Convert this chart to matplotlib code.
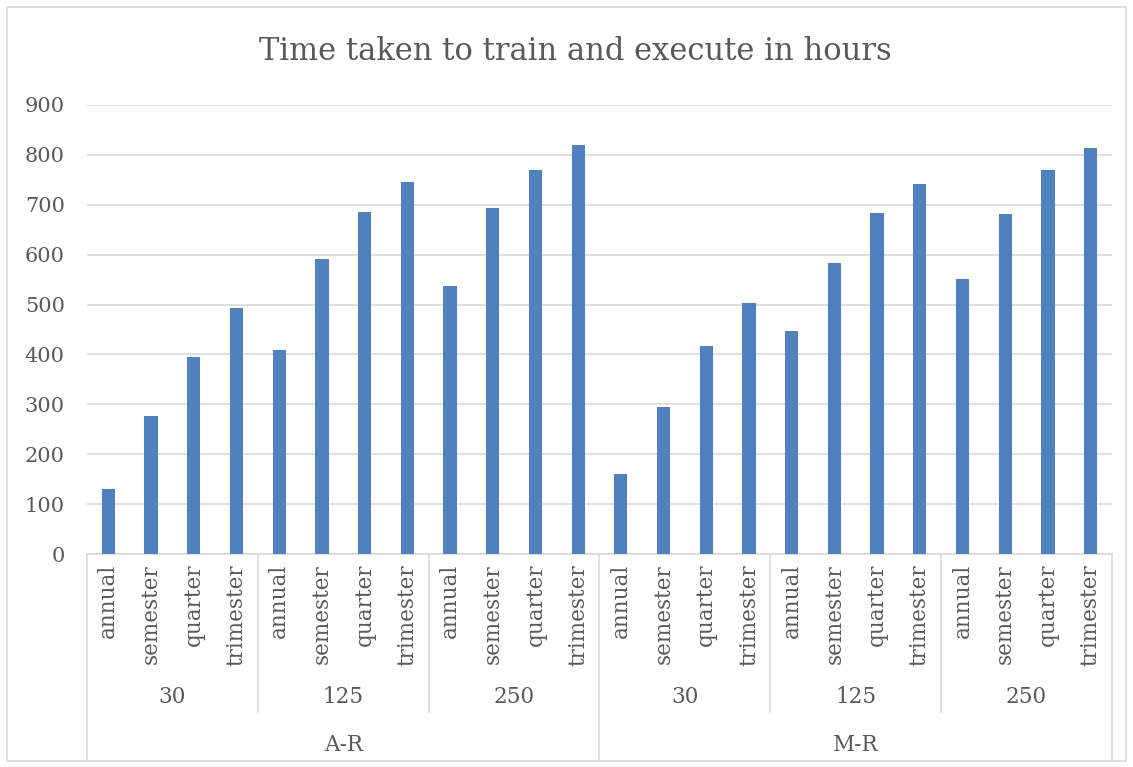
import matplotlib
matplotlib.use("Agg")
import matplotlib.pyplot as plt
from matplotlib.patches import Rectangle
from matplotlib.transforms import blended_transform_factory

# data
periods = ["annual", "semester", "quarter", "trimester"]
sizes = ["30", "125", "250"]
methods = ["A-R", "M-R"]
hours_ar = [130, 277, 394, 494, 408, 592, 686, 745, 538, 693, 770, 820]
hours_mr = [160, 295, 416, 504, 446, 584, 683, 742, 551, 682, 769, 814]
y_ticks = [0, 100, 200, 300, 400, 500, 600, 700, 800, 900]

values = hours_ar + hours_mr
n = len(values)
text_col = "#595959"
grid_col = "#d9d9d9"
bar_col = "#4f81bd"

plt.rcParams["font.family"] = ["DejaVu Serif"]

fig = plt.figure(figsize=(11.33, 7.67), dpi=100)
ax = fig.add_axes([87 / 1133, 1 - 554 / 767, (1112 - 87) / 1133, (554 - 105) / 767])

# chart border
fig.patches.append(Rectangle((7 / 1133, 1 - 761 / 767), 1119 / 1133, 754 / 767,
                             transform=fig.transFigure, fill=False,
                             edgecolor=grid_col, linewidth=1.2))

x = list(range(n))
ax.bar(x, values, width=0.31, color=bar_col, zorder=3)

ax.set_xlim(-0.5, n - 0.5)
ax.set_ylim(0, 900)
ax.set_yticks(y_ticks)
ax.tick_params(axis="y", length=0, pad=16, labelsize=15, labelcolor=text_col)
ax.set_xticks([])
ax.grid(axis="y", color=grid_col, linewidth=1.2, zorder=0)
for s in ["top", "right", "left"]:
    ax.spines[s].set_visible(False)
ax.spines["bottom"].set_color(grid_col)
ax.spines["bottom"].set_linewidth(1.2)

fig.text(0.508, 0.933, "Time taken to train and execute in hours",
         ha="center", va="center", fontsize=22, color=text_col)

# multi-level category axis
tr = blended_transform_factory(ax.transData, ax.transAxes)
for i in range(n):
    ax.text(i, -0.022, periods[i % 4], rotation=90, ha="center", va="top",
            fontsize=15.5, color=text_col, transform=tr)

for g in range(6):
    ax.text(g * 4 + 1.5, -0.318, sizes[g % 3], ha="center", va="center",
            fontsize=15.5, color=text_col, transform=tr)
for m in range(2):
    ax.text(m * 12 + 5.5, -0.425, methods[m], ha="center", va="center",
            fontsize=15.5, color=text_col, transform=tr)

for b in range(0, n + 1, 4):
    low = -0.459 if b % 12 == 0 else -0.352
    ax.plot([b - 0.5, b - 0.5], [0, low], color=grid_col, linewidth=1.2,
            transform=tr, clip_on=False)

fig.savefig("out.png", dpi=100)
